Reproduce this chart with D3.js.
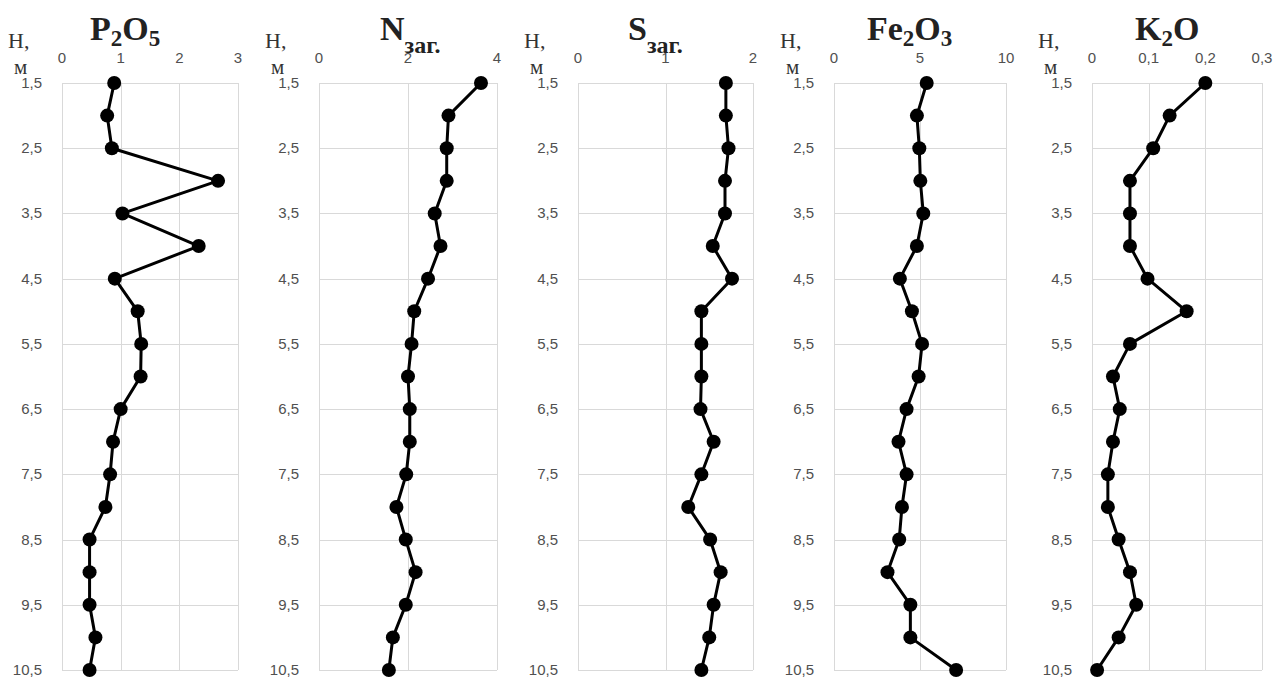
<!DOCTYPE html>
<html>
<head>
<meta charset="utf-8">
<script src="https://cdn.jsdelivr.net/npm/d3@7"></script>
<style>
  html, body { margin: 0; padding: 0; background: #fff; }
  svg { display: block; }
  .grid line { stroke: #d9d9d9; stroke-width: 1; shape-rendering: crispEdges; }
  .tick-lbl { font-family: "Liberation Sans", Arial, sans-serif; font-size: 15px; fill: #505050; }
  .h-lbl { font-family: "Liberation Serif", "Times New Roman", serif; fill: #333; }
  .title { font-family: "Liberation Serif", "Times New Roman", serif; font-weight: bold; fill: #222; }
</style>
</head>
<body>
<div id="chart"></div>
<script>
// depths, m
var depth = [1.5, 2, 2.5, 3, 3.5, 4, 4.5, 5, 5.5, 6, 6.5, 7, 7.5, 8, 8.5, 9, 9.5, 10, 10.5];
var depthTicks = [1.5, 2.5, 3.5, 4.5, 5.5, 6.5, 7.5, 8.5, 9.5, 10.5];

// values
var p2o5  = [0.89, 0.77, 0.85, 2.66, 1.03, 2.33, 0.90, 1.29, 1.35, 1.34, 1.00, 0.87, 0.82, 0.74, 0.47, 0.47, 0.47, 0.57, 0.47];
var nTot  = [3.64, 2.91, 2.87, 2.87, 2.60, 2.73, 2.45, 2.14, 2.08, 2.00, 2.04, 2.04, 1.96, 1.74, 1.95, 2.17, 1.95, 1.66, 1.57];
var sTot  = [1.69, 1.69, 1.72, 1.68, 1.68, 1.54, 1.76, 1.41, 1.41, 1.41, 1.40, 1.55, 1.41, 1.26, 1.51, 1.63, 1.55, 1.50, 1.41];
var fe2o3 = [5.39, 4.82, 4.96, 5.02, 5.19, 4.82, 3.83, 4.53, 5.12, 4.92, 4.22, 3.75, 4.22, 3.95, 3.79, 3.11, 4.44, 4.44, 7.10];
var k2o   = [0.200, 0.137, 0.108, 0.067, 0.067, 0.067, 0.098, 0.167, 0.067, 0.037, 0.049, 0.037, 0.028, 0.028, 0.047, 0.067, 0.078, 0.047, 0.009];

var p2o5Ticks = [0, 1, 2, 3];
var nTicks    = [0, 2, 4];
var sTicks    = [0, 1, 2];
var feTicks   = [0, 5, 10];
var kTicks    = [0, 0.1, 0.2, 0.3];

// panel layout (plot box left/right, title start)
var panels = [
  {vals: p2o5,  ticks: p2o5Ticks, left: 62,   right: 238,  titleX: 90,   title: [["P", 0], ["2", 1], ["O", 0], ["5", 1]]},
  {vals: nTot,  ticks: nTicks,    left: 319,  right: 497,  titleX: 380,  title: [["N", 0], ["заг.", 2]]},
  {vals: sTot,  ticks: sTicks,    left: 578,  right: 753,  titleX: 628,  title: [["S", 0], ["заг.", 2]]},
  {vals: fe2o3, ticks: feTicks,   left: 834,  right: 1006, titleX: 867,  title: [["Fe", 0], ["2", 1], ["O", 0], ["3", 1]]},
  {vals: k2o,   ticks: kTicks,    left: 1092, right: 1262, titleX: 1135, title: [["K", 0], ["2", 1], ["O", 0]]}
];

var width = 1283, height = 680;
var plotTop = 83, plotBottom = 670;

var svg = d3.select("#chart").append("svg")
    .attr("width", width)
    .attr("height", height);

var y = d3.scaleLinear().domain([1.5, 10.5]).range([plotTop, plotBottom]);
var fmt = function(v) { return String(v).replace(".", ","); };

panels.forEach(function(p) {
  var ticks = p.ticks;
  var x = d3.scaleLinear().domain([ticks[0], ticks[ticks.length - 1]]).range([p.left, p.right]);
  var g = svg.append("g");

  // grid
  var grid = g.append("g").attr("class", "grid");
  grid.selectAll("line.h").data(depthTicks).enter().append("line")
      .attr("class", "h")
      .attr("x1", p.left).attr("x2", p.right)
      .attr("y1", function(d) { return Math.round(y(d)) + 0.5; })
      .attr("y2", function(d) { return Math.round(y(d)) + 0.5; });
  grid.selectAll("line.v").data(ticks).enter().append("line")
      .attr("class", "v")
      .attr("y1", plotTop).attr("y2", plotBottom)
      .attr("x1", function(d) { return Math.round(x(d)) + 0.5; })
      .attr("x2", function(d) { return Math.round(x(d)) + 0.5; });

  // x tick labels
  g.selectAll("text.xt").data(ticks).enter().append("text")
      .attr("class", "tick-lbl")
      .attr("x", function(d) { return x(d); })
      .attr("y", 63)
      .attr("text-anchor", "middle")
      .text(fmt);

  // y tick labels
  g.selectAll("text.yt").data(depthTicks).enter().append("text")
      .attr("class", "tick-lbl")
      .attr("x", p.left - 20)
      .attr("y", function(d) { return y(d) + 5; })
      .attr("text-anchor", "end")
      .text(fmt);

  // "H, м"
  g.append("text").attr("class", "h-lbl")
      .attr("x", p.left - 54).attr("y", 48)
      .style("font-size", "22px")
      .text("H,");
  g.append("text").attr("class", "h-lbl")
      .attr("x", p.left - 48).attr("y", 74)
      .style("font-size", "21px")
      .text("м");

  // title with subscripts
  var t = g.append("text").attr("class", "title")
      .attr("x", p.titleX).attr("y", 40);
  p.title.forEach(function(part) {
    var ts = t.append("tspan").text(part[0]);
    if (part[1] === 0) {
      ts.style("font-size", "34px").attr("y", 40);
    } else if (part[1] === 1) {
      ts.style("font-size", "23px").attr("y", 46);
    } else {
      ts.style("font-size", "24px").attr("y", 53);
    }
  });

  // line + markers
  var pts = depth.map(function(d, i) { return [p.vals[i], d]; });
  var line = d3.line().x(function(d) { return x(d[0]); }).y(function(d) { return y(d[1]); });
  g.append("path").datum(pts)
      .attr("d", line)
      .attr("fill", "none")
      .attr("stroke", "#000")
      .attr("stroke-width", 3)
      .attr("stroke-linejoin", "round");
  g.selectAll("circle").data(pts).enter().append("circle")
      .attr("cx", function(d) { return x(d[0]); })
      .attr("cy", function(d) { return y(d[1]); })
      .attr("r", 7)
      .attr("fill", "#000");
});
</script>
</body>
</html>
